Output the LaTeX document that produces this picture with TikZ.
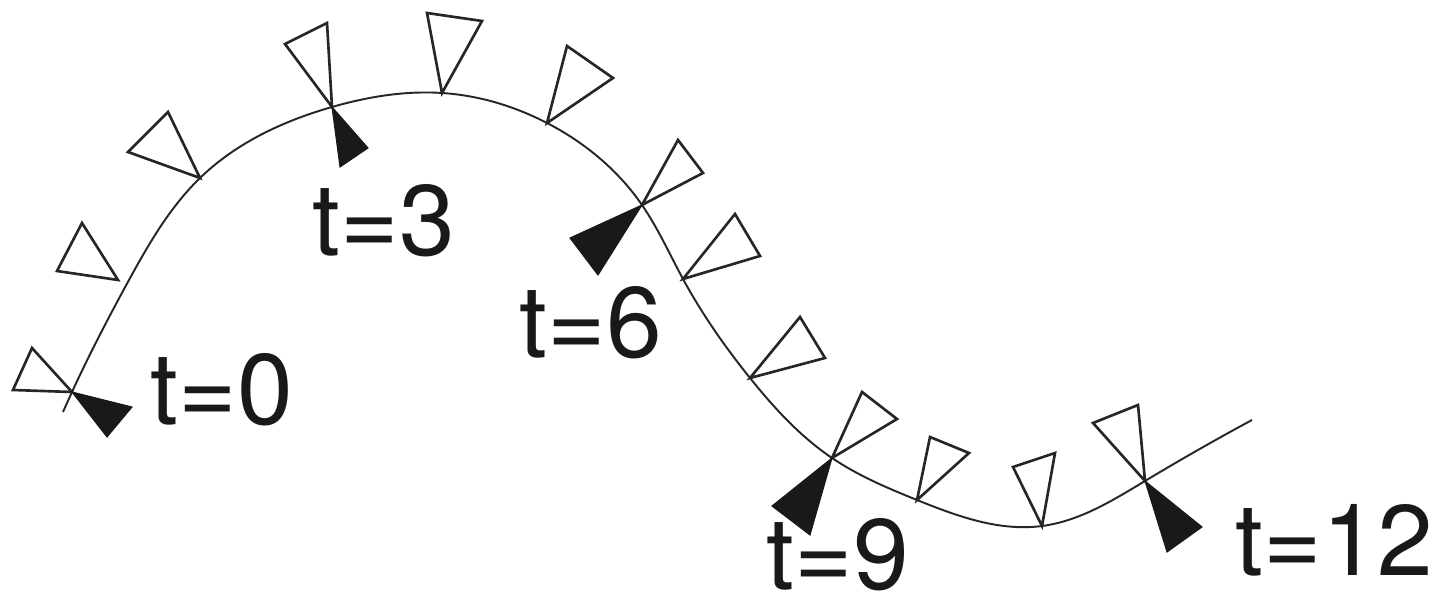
\documentclass[tikz,border=0pt]{standalone}
\usepackage{fontspec}
\setmainfont{TeX Gyre Heros}
\usetikzlibrary{hobby}
\begin{document}
\begin{tikzpicture}[x=0.01cm,y=-0.01cm,
  curveline/.style={line width=0.55pt,black!85},
  openflag/.style={draw=black!85,line width=0.75pt,line join=miter},
  fullflag/.style={fill=black!90,draw=black!90,line width=0.3pt,line join=miter},
  tlabel/.style={font=\fontsize{28.5}{32}\selectfont,inner sep=0pt,anchor=base west,text=black!90}]
\useasboundingbox[fill=white] (0,0) rectangle (1440,610);
% points on the curve
\coordinate (s)  at (63,412);
\coordinate (p0) at (72,392);
\coordinate (q2) at (129,280);
\coordinate (p1) at (200,178);
\coordinate (p3) at (332,107);
\coordinate (p4) at (442,93);
\coordinate (p5) at (547,123);
\coordinate (p6) at (642,205);
\coordinate (p7) at (683,279);
\coordinate (p8) at (750,378);
\coordinate (p9) at (832,458);
\coordinate (p10) at (917,500);
\coordinate (p11) at (1042,526);
\coordinate (p12) at (1145,481);
\coordinate (e)  at (1252,420);
\draw[curveline,use Hobby shortcut] (s) .. (p0) .. (q2) .. (p1) .. (p3) .. (p4) .. (p5) .. (p6) .. (p7) .. (p8) .. (p9) .. (p10) .. (p11) .. (p12) .. (e);
% open flags
\draw[openflag] (p0) -- (32,348) -- (13,390) -- cycle;
\draw[openflag] (118,280) -- (82,223) -- (57,271) -- cycle;
\draw[openflag] (p1) -- (168,112) -- (128,152) -- cycle;
\draw[openflag] (p3) -- (327,23) -- (285,44) -- cycle;
\draw[openflag] (p4) -- (427,13) -- (482,21) -- cycle;
\draw[openflag] (p5) -- (567,46) -- (613,78) -- cycle;
\draw[openflag] (p6) -- (678,140) -- (703,173) -- cycle;
\draw[openflag] (p7) -- (735,214) -- (760,256) -- cycle;
\draw[openflag] (p8) -- (800,317) -- (825,358) -- cycle;
\draw[openflag] (p9) -- (862,392) -- (897,419) -- cycle;
\draw[openflag] (p10) -- (930,437) -- (969,453) -- cycle;
\draw[openflag] (p11) -- (1013,467) -- (1055,453) -- cycle;
\draw[openflag] (p12) -- (1138,405) -- (1093,423) -- cycle;
% filled flags
\fill[fullflag] (p0) -- (132,407) -- (107,437) -- cycle;
\fill[fullflag] (p3) -- (368,148) -- (340,167) -- cycle;
\fill[fullflag] (p6) -- (570,238) -- (598,275) -- cycle;
\fill[fullflag] (p9) -- (772,506) -- (810,535) -- cycle;
\fill[fullflag] (p12) -- (1202,527) -- (1167,552) -- cycle;
% labels
\node[tlabel] (l0) at (150,425) {t=0};
\node[tlabel] (l3) at (312,256) {t=3};
\node[tlabel] (l6) at (519,358) {t=6};
\node[tlabel] (l9) at (766,590) {t=9};
\node[tlabel] (l12) at (1235,575) {t=12};
\end{tikzpicture}
\end{document}
